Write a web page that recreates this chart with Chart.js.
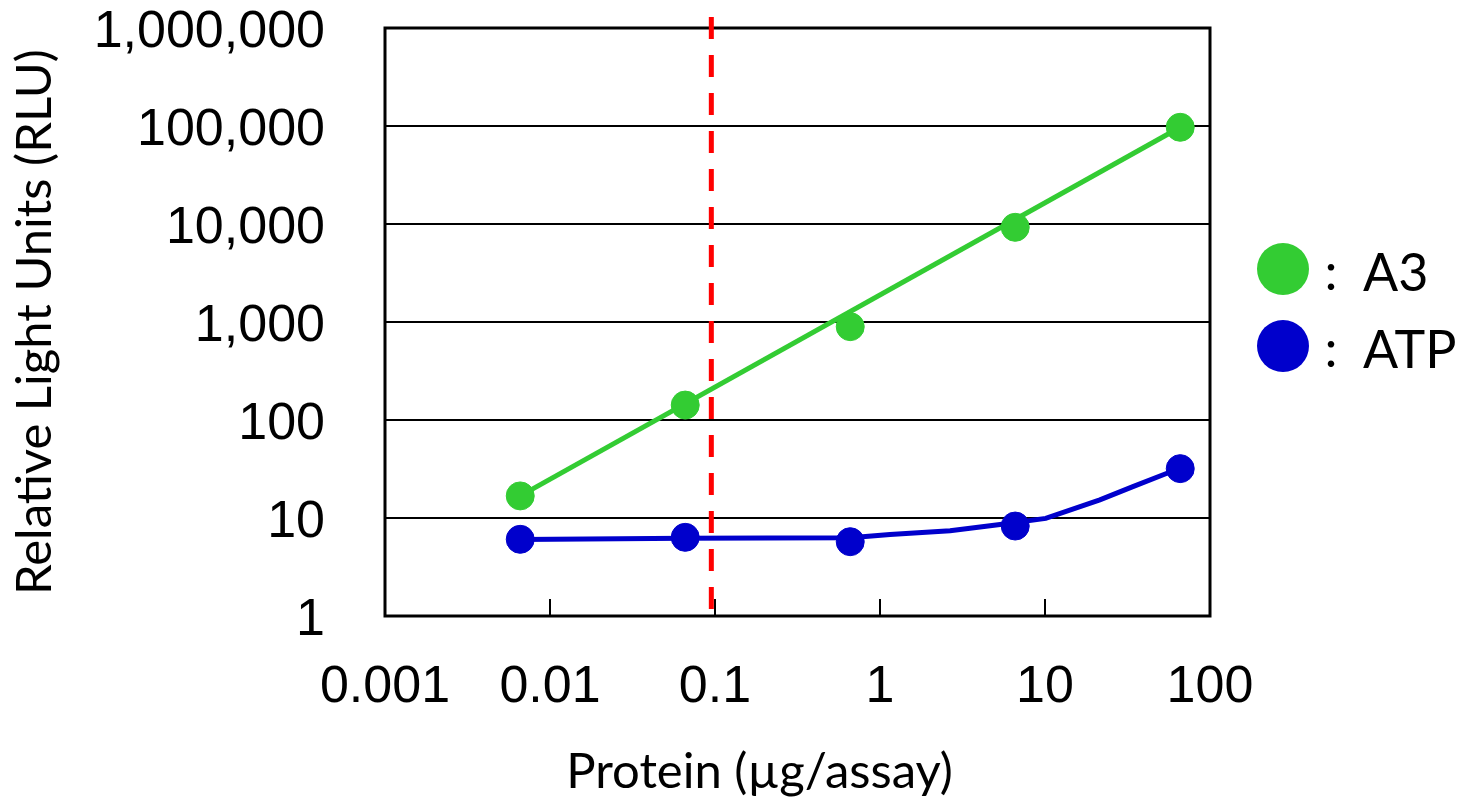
<!doctype html>
<html lang="en">
  <head>
    <meta charset="utf-8">
    <title>A3 / ATP luminescence vs protein</title>
    <style>
      * {
        margin: 0;
        padding: 0;
      }
      body {
        background: #fff;
      }
    </style>
  </head>
  <body>
    <canvas id="myChart" width="1458" height="798"></canvas>
    <script src="https://cdn.jsdelivr.net/npm/chart.js/dist/chart.umd.min.js"></script>
    <script>
    // setup
    const protein = [0.0066, 0.066, 0.66, 6.6, 66];      // µg/assay
    const a3Rlu = [16.8, 142, 896, 9250, 97000];
    const atpRlu = [6.06, 6.35, 5.73, 8.28, 31.9];

    // trend lines
    const a3FitX = [0.0066, 66];
    const a3FitY = [16.8, 97000];
    const atpFitX = [0.0066, 0.066, 0.66, 1.15, 2.66, 5.34, 10.1, 21.5, 34.1, 54.9, 66];
    const atpFitY = [6.05, 6.2, 6.3, 6.8, 7.4, 8.6, 9.9, 15.3, 20.9, 28.6, 31.9];

    const cutoffX = 0.095;   // red dashed line

    const xTickValues = [0.001, 0.01, 0.1, 1, 10, 100];
    const xTickLabels = ['0.001', '0.01', '0.1', '1', '10', '100'];
    const yTickValues = [1, 10, 100, 1000, 10000, 100000, 1000000];
    const yTickLabels = ['1', '10', '100', '1,000', '10,000', '100,000', '1,000,000'];

    const seriesNames = ['A3', 'ATP'];

    const GREEN = '#33CC33';
    const BLUE = '#0000CC';
    const TITLE_FONT = 'Lato';
    const TICK_FONT = "'Liberation Sans', Arial, sans-serif";

    const pts = (xs, ys) => xs.map((x, i) => ({ x: x, y: ys[i] }));

    const data = {
      datasets: [
        { label: seriesNames[0], data: pts(protein, a3Rlu), backgroundColor: GREEN, borderColor: GREEN,
          pointRadius: 14, pointHoverRadius: 14, showLine: false },
        { label: seriesNames[1], data: pts(protein, atpRlu), backgroundColor: BLUE, borderColor: BLUE,
          pointRadius: 14, pointHoverRadius: 14, showLine: false },
        { label: 'A3 fit', data: pts(a3FitX, a3FitY), borderColor: GREEN, borderWidth: 5,
          pointRadius: 0, showLine: true },
        { label: 'ATP fit', data: pts(atpFitX, atpFitY), borderColor: BLUE, borderWidth: 5,
          pointRadius: 0, showLine: true }
      ]
    };

    // plot frame + x tick marks pointing inward
    const frame = {
      id: 'frame',
      beforeDatasetsDraw(chart) {
        const { ctx, chartArea: { top, bottom, left, right }, scales: { x } } = chart;
        ctx.save();
        ctx.strokeStyle = '#000';
        ctx.lineWidth = 2;
        xTickValues.forEach(v => {
          const px = Math.round(x.getPixelForValue(v));
          ctx.beginPath();
          ctx.moveTo(px, bottom);
          ctx.lineTo(px, bottom - 17);
          ctx.stroke();
        });
        ctx.lineWidth = 3;
        ctx.strokeRect(left, top, right - left, bottom - top);
        ctx.restore();
      }
    };

    // red dashed vertical line
    const cutoffLine = {
      id: 'cutoffLine',
      afterDatasetsDraw(chart) {
        const { ctx, chartArea: { top, bottom }, scales: { x } } = chart;
        const px = x.getPixelForValue(cutoffX);
        ctx.save();
        ctx.beginPath();
        ctx.lineWidth = 5;
        ctx.strokeStyle = '#FF0000';
        ctx.setLineDash([22, 16]);
        ctx.moveTo(px, top - 11);
        ctx.lineTo(px, bottom - 6);
        ctx.stroke();
        ctx.restore();
      }
    };

    // legend on the right + x axis title
    const sideLegend = {
      id: 'sideLegend',
      afterDraw(chart) {
        const { ctx, chartArea: { left, right, bottom } } = chart;
        const colors = [GREEN, BLUE];
        const rowY = [269, 346];
        ctx.save();
        ctx.textBaseline = 'middle';
        ctx.fillStyle = '#000';
        seriesNames.forEach((name, i) => {
          ctx.beginPath();
          ctx.fillStyle = colors[i];
          ctx.arc(right + 73, rowY[i], 26, 0, Math.PI * 2);
          ctx.fill();
          ctx.fillStyle = '#000';
          ctx.font = '52px ' + TITLE_FONT;
          ctx.textAlign = 'center';
          ctx.fillText(':', right + 121, rowY[i] + 4);
          ctx.textAlign = 'left';
          ctx.fillText(name, right + 153, rowY[i] + 5);
        });

        ctx.font = '49px ' + TITLE_FONT;
        ctx.textAlign = 'center';
        ctx.textBaseline = 'alphabetic';
        ctx.fillText('Protein (µg/assay)', (left + right) / 2 - 38, bottom + 172);
        ctx.restore();
      }
    };

    // config
    const config = {
      type: 'scatter',
      data,
      options: {
        responsive: false,
        animation: false,
        layout: {
          padding: { top: 28, right: 248, bottom: 0, left: 0 }
        },
        scales: {
          x: {
            type: 'logarithmic',
            min: 0.001,
            max: 100,
            afterBuildTicks: (scale) => { scale.ticks = xTickValues.map(v => ({ value: v })); },
            afterFit: (scale) => { scale.height = 182; scale.paddingLeft = 0; scale.paddingRight = 0; },
            grid: { display: false },
            border: { display: false },
            ticks: {
              color: '#000',
              font: { family: TICK_FONT, size: 52 },
              padding: 32,
              maxRotation: 0,
              autoSkip: false,
              callback: (value, index) => xTickLabels[index]
            },
            title: { display: false }
          },
          y: {
            type: 'logarithmic',
            min: 1,
            max: 1000000,
            afterBuildTicks: (scale) => { scale.ticks = yTickValues.map(v => ({ value: v })); },
            afterFit: (scale) => { scale.width = 385; scale.paddingTop = 0; scale.paddingBottom = 0; },
            grid: { color: '#000', lineWidth: 2, drawTicks: false },
            border: { display: false },
            ticks: {
              color: '#000',
              font: { family: TICK_FONT, size: 52 },
              padding: 60,
              labelOffset: 5,
              autoSkip: false,
              callback: (value, index) => yTickLabels[index]
            },
            title: {
              display: true,
              text: 'Relative Light Units (RLU)',
              color: '#000',
              font: { family: TITLE_FONT, size: 49 },
              padding: { top: 6, bottom: 0 }
            }
          }
        },
        plugins: {
          legend: { display: false },
          tooltip: { enabled: false }
        }
      },
      plugins: [frame, cutoffLine, sideLegend]
    };

    const myChart = new Chart(document.getElementById('myChart'), config);
    </script>
  </body>
</html>
